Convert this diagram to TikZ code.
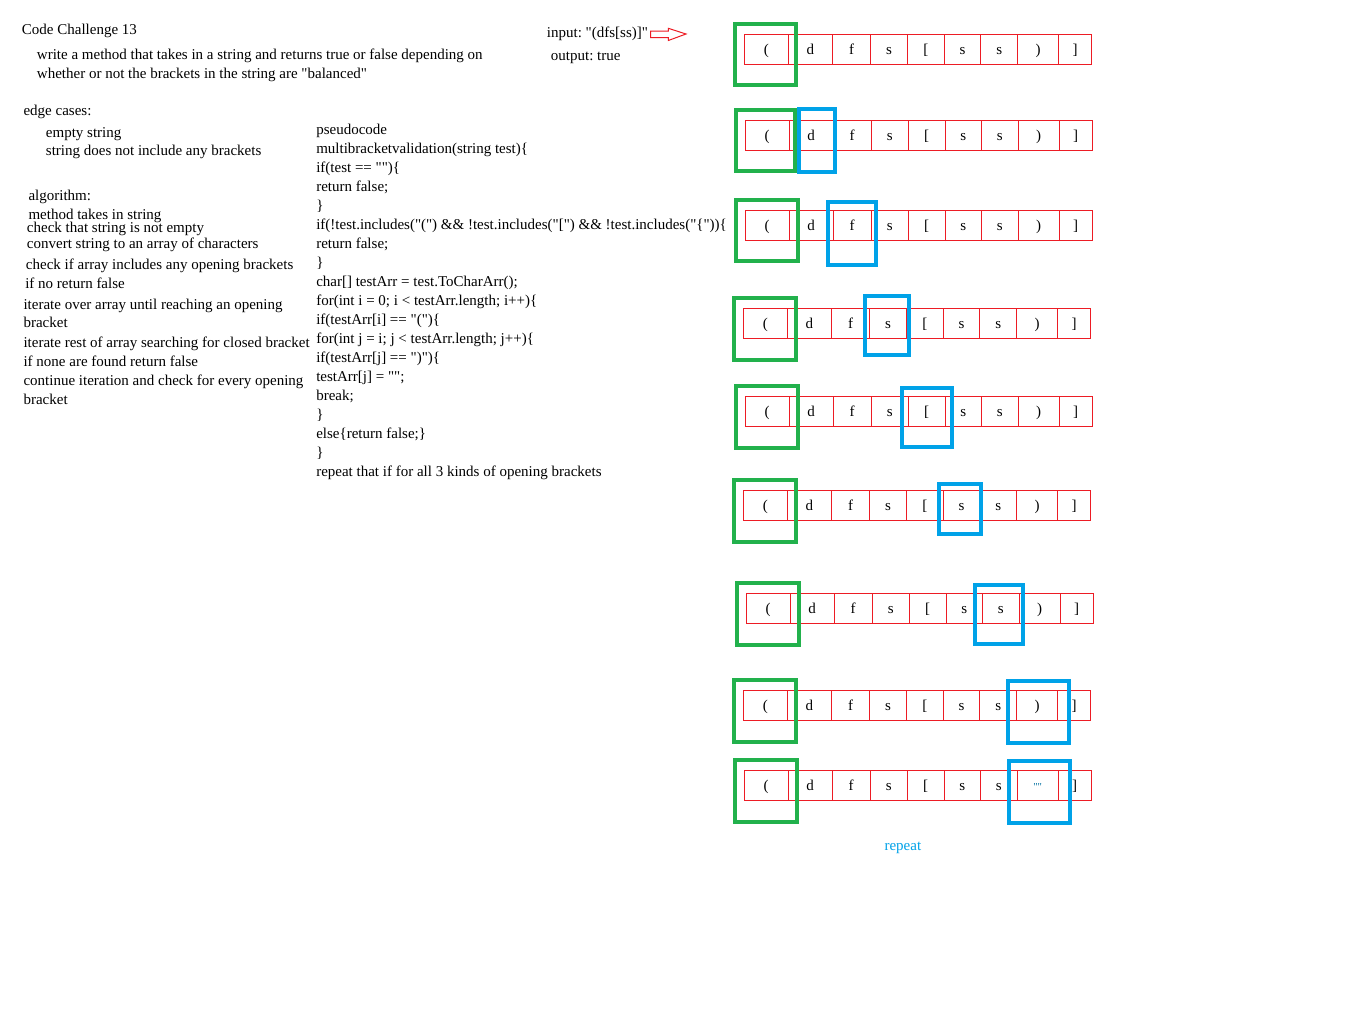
\documentclass[tikz,border=0pt]{standalone}
\usepackage{fontspec}
\newfontfamily\tnr{Liberation Serif}
\definecolor{pred}{HTML}{ED1C24}
\definecolor{pgreen}{HTML}{22B14C}
\definecolor{pblue}{HTML}{00A2E8}
\newcommand\arrayrow[4]{%
  \foreach \k/\a/\b/\ch in {1/0/44/{(},2/44/88/d,3/88/126.4/f,4/126.4/163/s,5/163/200/{[},6/200/236.4/s,7/236.4/273.4/s,8/273.4/314/{#4},9/314/347.4/{]}}{
    \node[cell, minimum width={(\b-\a)*0.75pt}] (#1c\k) at ({#2+(\a+\b)/2},{#3+15}) {\ch};
  }%
}
\frenchspacing
\begin{document}
\begin{tikzpicture}[x=0.75pt,y=-0.75pt,
  txt/.style={anchor=base west, inner sep=0pt, font=\tnr\fontsize{11.25}{13}\selectfont\frenchspacing},
  cell/.style={draw=pred, line width=0.75pt, minimum height=22.5pt, inner sep=0pt, text height=8.4pt, text depth=0pt, font=\tnr\fontsize{11.25}{13}\selectfont},
  gbox/.style={draw=pgreen, line width=3pt},
  bbox/.style={draw=pblue, line width=3pt}]
\useasboundingbox (0,0) rectangle (1360,1022);
\fill[white] (0,0) rectangle (1360,1022);

% left texts
\node[txt] (title) at (21.7,34.3) {Code Challenge 13};
\node[txt] (d1) at (36.7,59.5) {write a method that takes in a string and returns true or false depending on};
\node[txt] (d2) at (36.7,78.3) {whether or not the brackets in the string are "balanced"};
\node[txt] (e0) at (23.3,115.7) {edge cases:};
\node[txt] (e1) at (45.7,137.3) {empty string};
\node[txt] (e2) at (45.7,155.7) {string does not include any brackets};
\node[txt] (a0) at (28.3,200.7) {algorithm:};
\node[txt] (a1) at (28.3,219.3) {method takes in string};
\node[txt] (a2) at (26.7,232.3) {check that string is not empty};
\node[txt] (a3) at (26.7,248.3) {convert string to an array of characters};
\node[txt] (a4) at (25.7,269) {check if array includes any opening brackets};
\node[txt] (a5) at (25,288.3) {if no return false};
\node[txt] (a6) at (23.3,309) {iterate over array until reaching an opening};
\node[txt] (a7) at (23.3,327.7) {bracket};
\node[txt] (a8) at (23.3,347.3) {iterate rest of array searching for closed bracket};
\node[txt] (a9) at (23.3,366.3) {if none are found return false};
\node[txt] (a10) at (23.3,385.7) {continue iteration and check for every opening};
\node[txt] (a11) at (23.3,404) {bracket};

% pseudocode
\node[txt] (p0) at (316,134) {pseudocode};
\node[txt] (p1) at (316,153) {multibracketvalidation(string test)\{};
\node[txt] (p2) at (316,172) {if(test == "")\{};
\node[txt] (p3) at (316,191) {return false;};
\node[txt] (p4) at (316,210) {\}};
\node[txt] (p5) at (316,229) {if(!test.includes("(") \&\& !test.includes("[") \&\& !test.includes("\{"))\{};
\node[txt] (p6) at (316,248) {return false;};
\node[txt] (p7) at (316,267) {\}};
\node[txt] (p8) at (316,286) {char[] testArr = test.ToCharArr();};
\node[txt] (p9) at (316,305) {for(int i = 0; i < testArr.length; i++)\{};
\node[txt] (p10) at (316,324) {if(testArr[i] == "(")\{};
\node[txt] (p11) at (316,343) {for(int j = i; j < testArr.length; j++)\{};
\node[txt] (p12) at (316,362) {if(testArr[j] == ")")\{};
\node[txt] (p13) at (316,381) {testArr[j] = "";};
\node[txt] (p14) at (316,400) {break;};
\node[txt] (p15) at (316,419) {\}};
\node[txt] (p16) at (316,438) {else\{return false;\}};
\node[txt] (p17) at (316,457) {\}};
\node[txt] (p18) at (316,476) {repeat that if for all 3 kinds of opening brackets};

% input / output
\node[txt] (inp) at (546.7,37.3) {input: "(dfs[ss)]"};
\node[txt] (outp) at (550.7,60) {output: true};
\draw[pred, line width=0.75pt, line join=miter] (650.7,31) -- (668.3,31) -- (668.3,28.3) -- (686,34) -- (668.3,40.5) -- (668.3,37.7) -- (650.7,37.7) -- cycle;

% arrays
\arrayrow{r1}{744.3}{34.3}{)}
\arrayrow{r2}{745}{120}{)}
\arrayrow{r3}{745}{210}{)}
\arrayrow{r4}{743.3}{308.3}{)}
\arrayrow{r5}{745}{396}{)}
\arrayrow{r6}{743.3}{490}{)}
\arrayrow{r7}{746}{593.3}{)}
\arrayrow{r8}{743.3}{690}{)}
\arrayrow{r9}{744}{770}{{\color{pblue!70!black}\fontsize{8}{9}\selectfont""}}

% green boxes
\draw[gbox] (735.3,24.3) rectangle (795.7,84.7);
\draw[gbox] (736,110.3) rectangle (794.7,171.3);
\draw[gbox] (736,200.3) rectangle (797.7,261.3);
\draw[gbox] (734.3,298) rectangle (795.7,360.3);
\draw[gbox] (736,386) rectangle (798,448);
\draw[gbox] (733.7,479.7) rectangle (795.7,542);
\draw[gbox] (737,582.7) rectangle (799,644.7);
\draw[gbox] (733.7,680.3) rectangle (796.3,742);
\draw[gbox] (734.7,760.3) rectangle (797,822.3);
% blue boxes
\draw[bbox] (799.3,109.3) rectangle (834.7,172.3);
\draw[bbox] (828,202) rectangle (875.7,264.7);
\draw[bbox] (865.3,296) rectangle (908.7,354.7);
\draw[bbox] (902,388) rectangle (952.3,447);
\draw[bbox] (939,483.7) rectangle (981.3,534);
\draw[bbox] (974.7,585.3) rectangle (1023,643.7);
\draw[bbox] (1008,681.3) rectangle (1069,743);
\draw[bbox] (1008.7,761.3) rectangle (1070.3,823);

\node[txt, text=pblue] (rep) at (884.3,850.5) {repeat};
\end{tikzpicture}
\end{document}
